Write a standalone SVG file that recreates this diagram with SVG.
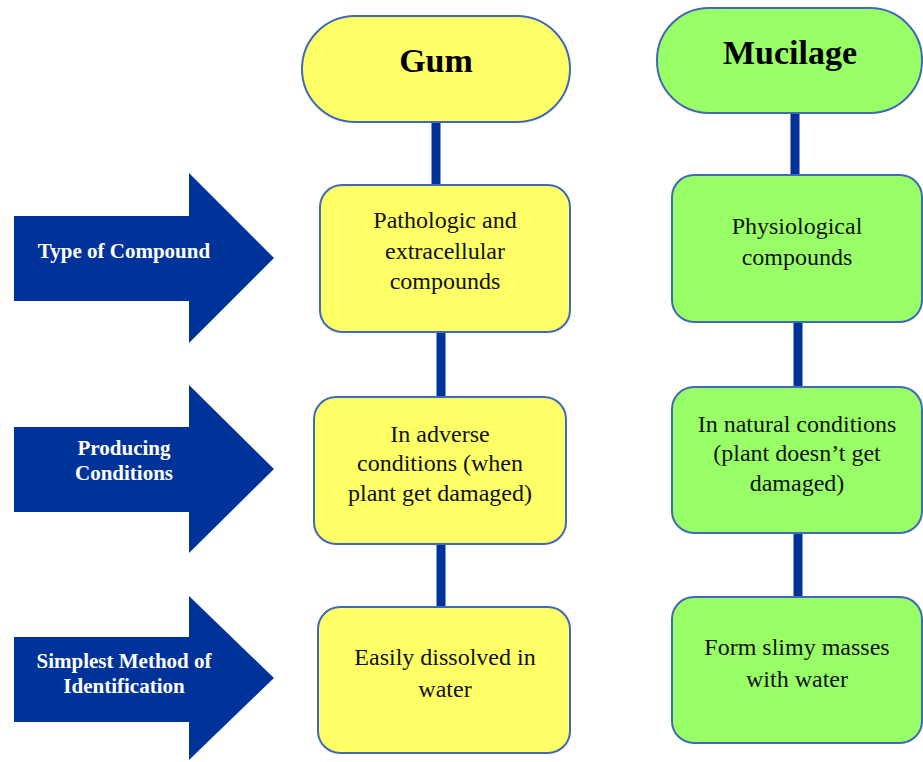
<svg xmlns="http://www.w3.org/2000/svg" width="923" height="762" viewBox="0 0 923 762">
<style>
.gum{fill:#ffff66;stroke:#4169b8;stroke-width:2}
.muc{fill:#99ff66;stroke:#4169b8;stroke-width:2}
.conn line{stroke:#003399;stroke-width:9}
.arrow{fill:#003399}
.t{font-family:"Liberation Serif","Times New Roman",serif;font-size:24px;fill:#111;text-anchor:middle}
.h{font-family:"Liberation Serif","Times New Roman",serif;font-size:34px;font-weight:bold;fill:#000;text-anchor:middle}
.a{font-family:"Liberation Serif","Times New Roman",serif;font-size:21px;font-weight:bold;fill:#fff;text-anchor:middle}
</style>
<rect width="923" height="762" fill="#fff"/>
<g class="conn" id="connectors">
<line x1="436" y1="121" x2="436" y2="186"/>
<line x1="441" y1="331" x2="441" y2="398"/>
<line x1="441" y1="543" x2="441" y2="608"/>
<line x1="795" y1="112" x2="795" y2="176"/>
<line x1="798" y1="321" x2="798" y2="388"/>
<line x1="798" y1="532" x2="798" y2="598"/>
</g>
<g id="arrow-type">
<polygon class="arrow" points="14,216 189,216 189,173 274,258 189,343 189,301 14,301"/>
<text class="a" x="124" y="258">Type of Compound</text>
</g>
<g id="arrow-producing">
<polygon class="arrow" points="14,427 189,427 189,385 274,469 189,553 189,512 14,512"/>
<text class="a" x="124" y="455">Producing</text>
<text class="a" x="124" y="480">Conditions</text>
</g>
<g id="arrow-method">
<polygon class="arrow" points="14,637 189,637 189,596 274,678 189,760 189,722 14,722"/>
<text class="a" x="124" y="668">Simplest Method of</text>
<text class="a" x="124" y="693">Identification</text>
</g>
<g id="gum">
<rect class="gum" x="302" y="16" width="268" height="106" rx="53"/>
<text class="h" x="436" y="72">Gum</text>
</g>
<g id="gum-type">
<rect class="gum" x="320" y="185" width="250" height="147" rx="22"/>
<text class="t" x="445" y="228">Pathologic and</text>
<text class="t" x="445" y="259">extracellular</text>
<text class="t" x="445" y="289">compounds</text>
</g>
<g id="gum-cond">
<rect class="gum" x="314" y="397" width="252" height="147" rx="22"/>
<text class="t" x="440" y="442">In adverse</text>
<text class="t" x="440" y="471">conditions (when</text>
<text class="t" x="440" y="501">plant get damaged)</text>
</g>
<g id="gum-method">
<rect class="gum" x="318" y="607" width="252" height="146" rx="22"/>
<text class="t" x="445" y="665">Easily dissolved in</text>
<text class="t" x="445" y="697">water</text>
</g>
<g id="mucilage">
<rect class="muc" x="657" y="8" width="265" height="105" rx="52"/>
<text class="h" x="790" y="64">Mucilage</text>
</g>
<g id="muc-type">
<rect class="muc" x="672" y="175" width="250" height="147" rx="22"/>
<text class="t" x="797" y="234">Physiological</text>
<text class="t" x="797" y="265">compounds</text>
</g>
<g id="muc-cond">
<rect class="muc" x="672" y="387" width="250" height="146" rx="22"/>
<text class="t" x="797" y="432">In natural conditions</text>
<text class="t" x="797" y="461">(plant doesn’t get</text>
<text class="t" x="797" y="491">damaged)</text>
</g>
<g id="muc-method">
<rect class="muc" x="672" y="597" width="250" height="146" rx="22"/>
<text class="t" x="797" y="655">Form slimy masses</text>
<text class="t" x="797" y="687">with water</text>
</g>
</svg>
